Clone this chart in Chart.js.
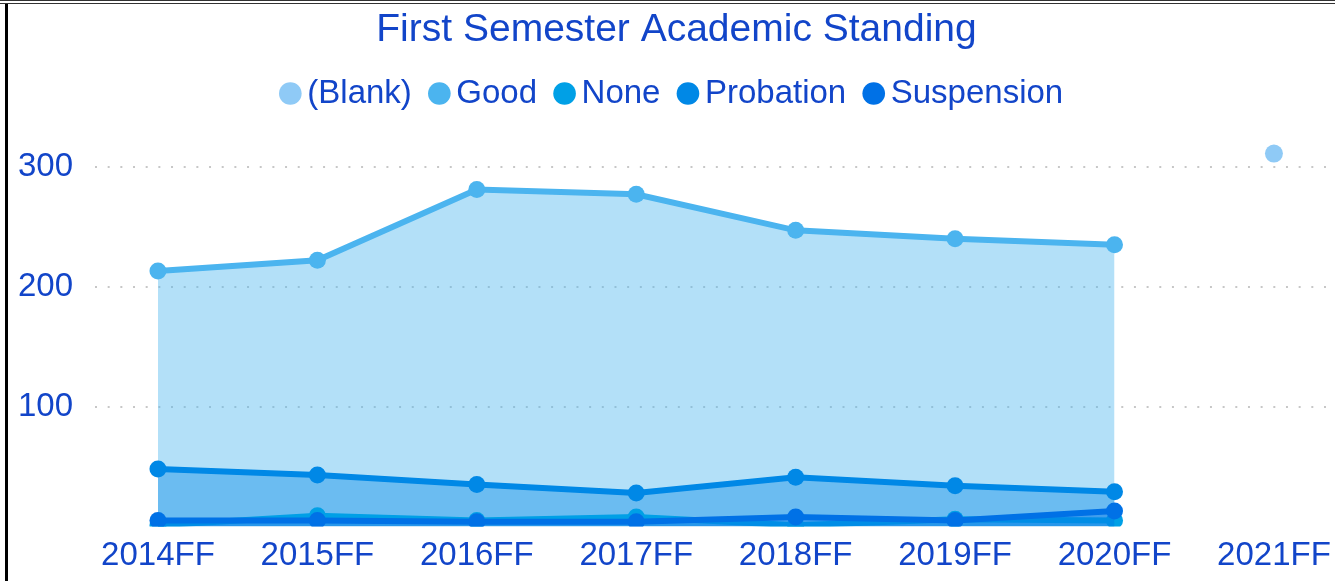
<!DOCTYPE html>
<html lang="en">
<head>
    <meta charset="UTF-8">
    <title>First Semester Academic Standing</title>
    <script src="https://cdn.jsdelivr.net/npm/chart.js"></script>
<style>
body {
    margin: 0;
    background: #fff;
    font-family: 'Liberation Sans', Arial, sans-serif;
}

/* linea doble arriba y borde negro a la izquierda */
.topline {
    position: absolute;
    left: 0;
    top: 0;
    width: 1335px;
    border-top: 4px double #333;
}

.frame {
    position: absolute;
    left: 5px;
    top: 4px;
    width: 1327px;
    height: 577px;
    border-left: 3px solid #000;
}

#chart {
    display: block;
}
</style>
</head>
<body>
<div class="topline"></div>
<div class="frame">
    <canvas id="chart" width="1327" height="577"></canvas>
</div>

<script>
// Datos
const cohorts = ['2014FF', '2015FF', '2016FF', '2017FF', '2018FF', '2019FF', '2020FF', '2021FF'];
const blankCounts      = [null, null, null, null, null, null, null, 311];
const goodCounts       = [213, 222, 281, 277, 247, 240, 235, null];
const noneCounts       = [1, 9, 5, 8, 1, 6, 5, null];
const probationCounts  = [48, 43, 35, 28, 41, 34, 29, null];
const suspensionCounts = [5, 5, 4, 4, 8, 5, 13, null];
const yTicks = [100, 200, 300];

const textColor = '#1245C9';
const fontFamily = "'Liberation Sans', Arial, sans-serif";

// convierte una serie en puntos {x, y} usando el indice de la categoria
function toPoints(values) {
    return values.map((v, i) => ({ x: i, y: v }));
}

function series(label, values, color, fill, order, radius) {
    return {
        label: label,
        data: toPoints(values),
        borderColor: color,
        backgroundColor: fill || 'transparent',
        fill: fill ? 'origin' : false,
        borderWidth: 6,
        tension: 0,
        pointRadius: radius || 8.5,
        pointBackgroundColor: color,
        pointBorderColor: color,
        pointBorderWidth: 0,
        spanGaps: false,
        order: order
    };
}

const ctx = document.getElementById('chart').getContext('2d');

new Chart(ctx, {
    type: 'line',
    data: {
        datasets: [
            series('(Blank)', blankCounts, '#8FCAF6', null, 5, 9),
            series('Good', goodCounts, '#4BB4EF', 'rgba(75,180,239,0.42)', 4),
            series('None', noneCounts, '#00A0E6', 'rgba(0,160,230,0.4)', 2),
            series('Probation', probationCounts, '#0088E6', 'rgba(0,136,230,0.4)', 3),
            series('Suspension', suspensionCounts, '#0071E6', 'rgba(0,113,230,0.4)', 1)
        ]
    },
    options: {
        responsive: false,
        animation: false,
        layout: {
            autoPadding: false,
            padding: { left: 10, right: 0, top: 0, bottom: 0 }
        },
        plugins: {
            title: {
                display: true,
                text: 'First Semester Academic Standing',
                color: textColor,
                font: { family: fontFamily, size: 39, weight: 'normal', lineHeight: 1.0 },
                padding: { top: 7, bottom: 0 }
            },
            legend: {
                position: 'top',
                labels: {
                    usePointStyle: true,
                    pointStyle: 'circle',
                    boxWidth: 1,
                    boxHeight: 16,
                    padding: 27,
                    color: textColor,
                    font: { family: fontFamily, size: 33 },
                    // el orden de la leyenda sigue el de las series, no el de dibujo
                    sort: (a, b) => a.datasetIndex - b.datasetIndex
                }
            },
            tooltip: { enabled: false }
        },
        scales: {
            x: {
                type: 'linear',
                min: -0.395,
                max: 7.383,
                grid: { display: false },
                border: { display: false },
                afterFit: function(scale) { scale.height = 54.5; },
                ticks: {
                    stepSize: 1,
                    includeBounds: false,
                    autoSkip: false,
                    maxRotation: 0,
                    padding: 2,
                    color: textColor,
                    font: { family: fontFamily, size: 33 },
                    callback: function(value) {
                        return Number.isInteger(value) ? cohorts[value] : '';
                    }
                }
            },
            y: {
                min: 0,
                max: 339,
                afterFit: function(scale) { scale.width = 77; },
                grid: {
                    drawTicks: false,
                    lineWidth: 2,
                    color: function(c) {
                        return c.tick && c.tick.value === 0 ? 'transparent' : 'rgba(0,0,0,0.22)';
                    }
                },
                border: { display: false, dash: [2, 10.67] },
                ticks: {
                    stepSize: 100,
                    includeBounds: false,
                    padding: 22,
                    color: textColor,
                    font: { family: fontFamily, size: 33 },
                    callback: function(value) {
                        return yTicks.includes(value) ? value : '';
                    }
                }
            }
        }
    }
});
</script>
</body>
</html>
